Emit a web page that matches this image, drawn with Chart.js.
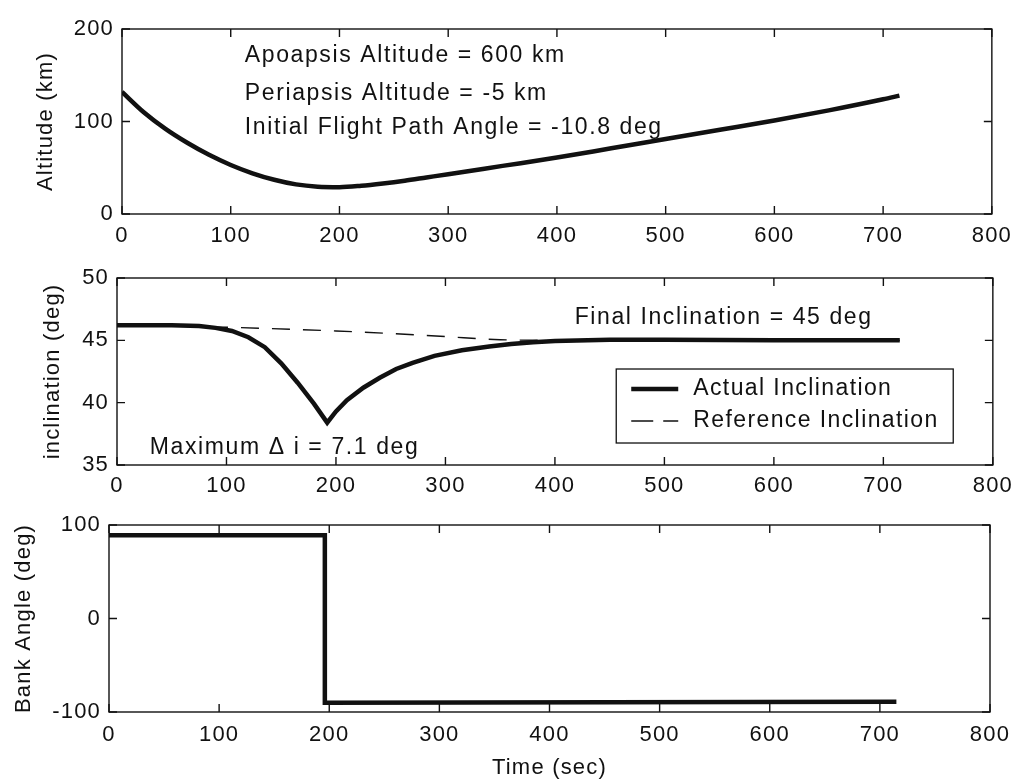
<!DOCTYPE html>
<html>
<head>
<meta charset="utf-8">
<script src="https://cdn.jsdelivr.net/npm/chart.js@4"></script>
<style>
  body { margin: 0; background: #fff; }
  #wrap { position: relative; width: 1021px; height: 784px; background: #fff; }
  #wrap canvas { position: absolute; left: 0; display: block; }
</style>
</head>
<body>
<div id="wrap">
  <canvas id="altChart" width="1021" height="250" style="top:0"></canvas>
  <canvas id="incChart" width="1021" height="250" style="top:250px"></canvas>
  <canvas id="bankChart" width="1021" height="284" style="top:500px"></canvas>
</div>
<script>
// altitude (km) against time (sec)
const altTime = [0, 20, 40, 60, 80, 100, 120, 140, 160, 180, 200, 220, 240, 260, 280, 300, 350, 400, 450, 500, 550, 600, 650, 700, 715];
const altValues = [132, 110, 92, 77, 64, 53, 44, 37, 32, 29.5, 29, 30.5, 33, 36, 39.5, 43, 52, 61, 71, 81, 91, 101, 112, 124, 128];

// inclination (deg) against time (sec)
const incTime = [0, 50, 75, 90, 105, 120, 135, 150, 165, 180, 192, 200, 210, 225, 240, 255, 270, 290, 315, 340, 360, 380, 400, 450, 500, 600, 715];
const incActual = [46.2, 46.2, 46.15, 46.0, 45.75, 45.25, 44.45, 43.15, 41.6, 39.9, 38.4, 39.3, 40.2, 41.2, 42.0, 42.7, 43.2, 43.75, 44.2, 44.5, 44.7, 44.85, 44.95, 45.05, 45.05, 45.0, 45.0];
const refTime = [0, 100, 200, 250, 300, 350, 400, 500, 600, 715];
const incReference = [46.2, 46.05, 45.75, 45.55, 45.3, 45.05, 45.0, 45.05, 45.0, 45.0];

// bank angle (deg) against time (sec)
const bankTime = [0, 196, 196, 715];
const bankValues = [89, 89, -90, -89];

const xTicks = [0, 100, 200, 300, 400, 500, 600, 700, 800];

const FONT = '"Liberation Sans", Arial, Helvetica, sans-serif';
Chart.defaults.font.family = FONT;
Chart.defaults.font.size = 22;
Chart.defaults.color = '#111';
Chart.defaults.animation = false;

function points(xs, ys) {
  return xs.map((x, i) => ({ x: x, y: ys[i] }));
}

// box round the plot, inward ticks on every side, text notes and an inset legend
function makeFrame(notes, legend) {
  return {
    id: 'frame',
    beforeLayout(chart) { chart.ctx.letterSpacing = '1.2px'; },
    beforeDraw(chart) { chart.ctx.letterSpacing = '1.2px'; },
    afterDraw(chart) {
      const ctx = chart.ctx;
      const a = chart.chartArea;
      const x = chart.scales.x, y = chart.scales.y;
      const len = 8;
      ctx.save();
      ctx.strokeStyle = '#111';
      ctx.lineWidth = 1.4;
      ctx.strokeRect(a.left, a.top, a.right - a.left, a.bottom - a.top);
      ctx.beginPath();
      x.ticks.forEach(t => {
        const px = x.getPixelForValue(t.value);
        ctx.moveTo(px, a.bottom); ctx.lineTo(px, a.bottom - len);
        ctx.moveTo(px, a.top); ctx.lineTo(px, a.top + len);
      });
      y.ticks.forEach(t => {
        const py = y.getPixelForValue(t.value);
        ctx.moveTo(a.left, py); ctx.lineTo(a.left + len, py);
        ctx.moveTo(a.right, py); ctx.lineTo(a.right - len, py);
      });
      ctx.stroke();

      ctx.font = '23px ' + FONT;
      ctx.letterSpacing = '1.6px';
      ctx.fillStyle = '#111';
      ctx.textBaseline = 'middle';
      ctx.textAlign = 'left';
      notes.forEach(n => {
        ctx.fillText(n.text, x.getPixelForValue(n.x), y.getPixelForValue(n.y));
      });

      if (legend) {
        const lx = x.getPixelForValue(legend.x);
        const ly = y.getPixelForValue(legend.y);
        ctx.letterSpacing = '1.4px';
        ctx.lineWidth = 1.3;
        ctx.strokeRect(lx, ly, legend.w, legend.h);
        chart.data.datasets.forEach((ds, i) => {
          const rowY = ly + 20 + i * 32;
          ctx.save();
          ctx.lineWidth = ds.borderWidth;
          ctx.setLineDash(ds.borderDash ? [22, 10] : []);
          ctx.beginPath();
          ctx.moveTo(lx + 15, rowY);
          ctx.lineTo(lx + 62, rowY);
          ctx.stroke();
          ctx.restore();
          ctx.fillText(ds.label, lx + 77, rowY);
        });
      }
      ctx.restore();
    }
  };
}

function axes(o) {
  return {
    x: {
      type: 'linear', min: 0, max: 800,
      afterBuildTicks: s => { s.ticks = xTicks.map(v => ({ value: v })); },
      ticks: { padding: o.xPad, maxRotation: 0, autoSkip: false },
      grid: { display: false, drawTicks: false },
      border: { display: false },
      title: o.xTitle
        ? { display: true, text: o.xTitle, font: { size: 22 }, padding: { top: 0, bottom: 3 } }
        : { display: false },
      afterFit: s => { s.height = o.xHeight; }
    },
    y: {
      min: o.yMin, max: o.yMax,
      ticks: { stepSize: o.yStep, padding: 8 },
      grid: { display: false, drawTicks: false },
      border: { display: false },
      title: { display: true, text: o.yTitle, font: { size: 22 }, padding: { top: o.titlePad, bottom: 0 } },
      afterFit: s => { s.width = o.yWidth; }
    }
  };
}

const lineStyle = {
  borderColor: '#111',
  backgroundColor: '#111',
  borderWidth: 4.5,
  pointRadius: 0,
  fill: false
};

new Chart(document.getElementById('altChart'), {
  type: 'line',
  data: {
    datasets: [Object.assign({
      label: 'Altitude',
      data: points(altTime, altValues),
      cubicInterpolationMode: 'monotone'
    }, lineStyle)]
  },
  options: {
    responsive: false,
    layout: { padding: { top: 29, right: 21, left: 0, bottom: 0 } },
    plugins: { legend: { display: false }, tooltip: { enabled: false } },
    scales: axes({ yMin: 0, yMax: 200, yStep: 100, yTitle: 'Altitude (km)', titlePad: 33, yWidth: 122, xHeight: 36, xPad: 9 })
  },
  plugins: [makeFrame([
    { x: 113, y: 171, text: 'Apoapsis Altitude = 600 km' },
    { x: 113, y: 130, text: 'Periapsis Altitude = -5 km' },
    { x: 113, y: 93, text: 'Initial Flight Path Angle = -10.8 deg' }
  ], null)]
});

new Chart(document.getElementById('incChart'), {
  type: 'line',
  data: {
    datasets: [
      Object.assign({
        label: 'Actual Inclination',
        data: points(incTime, incActual),
        tension: 0
      }, lineStyle),
      {
        label: 'Reference Inclination',
        data: points(refTime, incReference),
        borderColor: '#111',
        borderWidth: 1.4,
        borderDash: [18, 13],
        pointRadius: 0,
        fill: false,
        cubicInterpolationMode: 'monotone'
      }
    ]
  },
  options: {
    responsive: false,
    layout: { padding: { top: 28, right: 25, left: 0, bottom: 0 } },
    plugins: { legend: { display: false }, tooltip: { enabled: false } },
    scales: axes({ yMin: 35, yMax: 50, yStep: 5, yTitle: 'inclination (deg)', titlePad: 40, yWidth: 117, xHeight: 35, xPad: 8 })
  },
  plugins: [makeFrame([
    { x: 418, y: 46.8, text: 'Final Inclination = 45 deg' },
    { x: 30, y: 36.4, text: 'Maximum \u0394 i = 7.1 deg' }
  ], { x: 456, y: 42.7, w: 337, h: 74 })]
});

new Chart(document.getElementById('bankChart'), {
  type: 'line',
  data: {
    datasets: [Object.assign({
      label: 'Bank Angle',
      data: points(bankTime, bankValues),
      tension: 0
    }, lineStyle)]
  },
  options: {
    responsive: false,
    layout: { padding: { top: 25, right: 31, left: 0, bottom: 0 } },
    plugins: { legend: { display: false }, tooltip: { enabled: false } },
    scales: axes({ yMin: -100, yMax: 100, yStep: 100, yTitle: 'Bank Angle (deg)', titlePad: 11, yWidth: 109, xHeight: 72, xPad: 10, xTitle: 'Time (sec)' })
  },
  plugins: [makeFrame([], null)]
});
</script>
</body>
</html>
